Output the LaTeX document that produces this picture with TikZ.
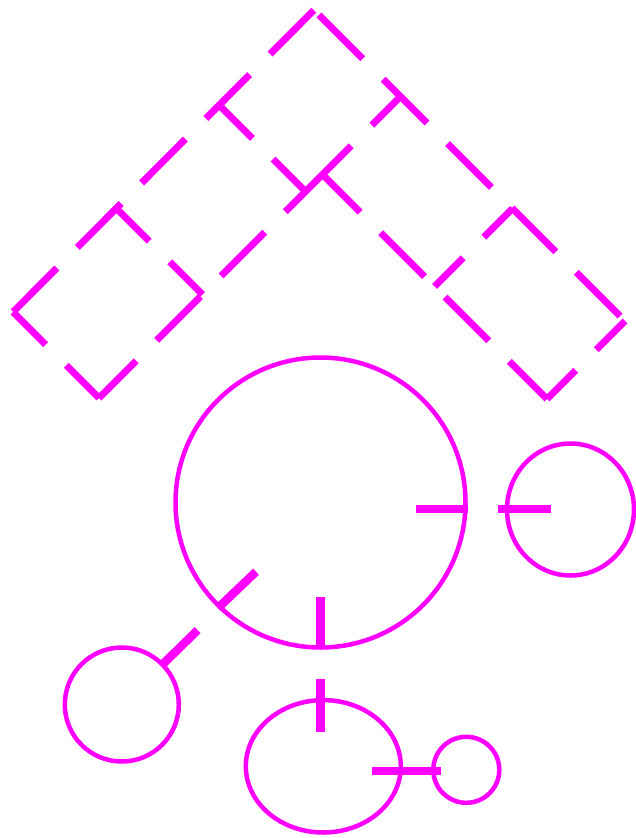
\documentclass[tikz,border=0pt]{standalone}
\usetikzlibrary{calc}
\definecolor{inkpink}{RGB}{255,0,255}

\begin{document}
\begin{tikzpicture}[x=1pt,y=-1pt,
    trail/.style={draw=inkpink, line width=7pt, dash pattern=on 62pt off 29pt},
    % drawn from the midpoint out: a gap or a dash sits at the middle
    midgap/.style={trail, dash phase=76.5pt},
    middash/.style={trail, dash phase=31pt},
    ring/.style={draw=inkpink, line width=4.5pt},
    stub/.style={draw=inkpink, line width=8.5pt}
]
    \useasboundingbox (0,0) rectangle (636,838);

    % Dashed frame
    \coordinate (apex) at (314,10);
    \coordinate (fork_l) at (220,106);
    \coordinate (fork_r) at (400.5,96.5);
    \coordinate (join_b) at (305.5,191.5);
    \coordinate (join_c) at (322.5,174.5);

    \coordinate (lsq_top) at (116.5,208.5);
    \coordinate (lsq_left) at (13,312);
    \coordinate (lsq_bot) at (99,398);
    \coordinate (lsq_right) at (202.5,294.5);

    \coordinate (rsq_top) at (512.5,208.5);
    \coordinate (rsq_left) at (434.5,286.5);
    \coordinate (rsq_bot) at (547,399);
    \coordinate (rsq_right) at (625,321);

    \draw[middash] ($(apex)!0.5!(lsq_left)$) -- (apex) ($(apex)!0.5!(lsq_left)$) -- (lsq_left);
    \draw[middash] ($(apex)!0.5!(rsq_right)$) -- (apex) ($(apex)!0.5!(rsq_right)$) -- (rsq_right);

    \draw[midgap] ($(fork_l)!0.5!(join_b)$) -- (fork_l) ($(fork_l)!0.5!(join_b)$) -- (join_b);
    \draw[midgap] ($(fork_r)!0.5!(join_c)$) -- (fork_r) ($(fork_r)!0.5!(join_c)$) -- (join_c);
    \draw[midgap] ($(join_c)!0.5!(lsq_bot)$) -- (join_c) ($(join_c)!0.5!(lsq_bot)$) -- (lsq_bot);
    \draw[midgap] ($(join_c)!0.5!(rsq_bot)$) -- (join_c) ($(join_c)!0.5!(rsq_bot)$) -- (rsq_bot);

    % left square
    \draw[midgap] ($(lsq_top)!0.5!(lsq_right)$) -- (lsq_top) ($(lsq_top)!0.5!(lsq_right)$) -- (lsq_right);
    \draw[midgap] ($(lsq_left)!0.5!(lsq_bot)$) -- (lsq_left) ($(lsq_left)!0.5!(lsq_bot)$) -- (lsq_bot);

    % right square
    \draw[midgap] ($(rsq_top)!0.5!(rsq_left)$) -- (rsq_top) ($(rsq_top)!0.5!(rsq_left)$) -- (rsq_left);
    \draw[midgap] ($(rsq_right)!0.5!(rsq_bot)$) -- (rsq_right) ($(rsq_right)!0.5!(rsq_bot)$) -- (rsq_bot);

    % Rings
    \coordinate (big) at (320.5,502.5);
    \coordinate (east) at (570.5,509.5);
    \coordinate (west) at (121.8,704.5);
    \coordinate (low) at (323.3,766.3);
    \coordinate (tiny) at (466.3,769.8);

    \draw[ring] (big) circle[radius=145];
    \draw[ring] (east) ellipse[x radius=63.5, y radius=66];
    \draw[ring] (west) circle[radius=57];
    \draw[ring] (low) ellipse[x radius=77.5, y radius=66.2];
    \draw[ring] (tiny) circle[radius=33];

    % Stubs between rings
    \coordinate (big_e1) at (416,509);
    \coordinate (big_e2) at (468,509);
    \coordinate (east_w1) at (498,509);
    \coordinate (east_w2) at (551,509);
    \draw[stub] (big_e1) -- (big_e2);
    \draw[stub] (east_w1) -- (east_w2);

    \coordinate (big_s1) at (320.7,597);
    \coordinate (big_s2) at (320.7,646);
    \coordinate (low_n1) at (320.7,679);
    \coordinate (low_n2) at (320.7,732);
    \draw[stub] (big_s1) -- (big_s2);
    \draw[stub] (low_n1) -- (low_n2);

    \coordinate (big_sw1) at (256,571.7);
    \coordinate (big_sw2) at (218,608);
    \coordinate (west_ne1) at (197.7,630);
    \coordinate (west_ne2) at (162,665);
    \draw[stub] (big_sw1) -- (big_sw2);
    \draw[stub] (west_ne1) -- (west_ne2);

    \coordinate (low_e1) at (372,771);
    \coordinate (low_e2) at (422,771);
    \coordinate (tiny_w1) at (391,771);
    \coordinate (tiny_w2) at (441,771);
    \draw[stub] (low_e1) -- (low_e2);
    \draw[stub] (tiny_w1) -- (tiny_w2);

\end{tikzpicture}
\end{document}
